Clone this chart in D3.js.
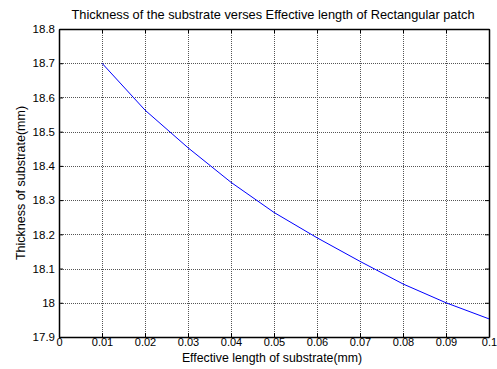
<!DOCTYPE html>
<html><head><meta charset="utf-8">
<script src="https://cdn.jsdelivr.net/npm/d3@7"></script>
<style>body{margin:0;background:#fff}svg{display:block}text{font-family:"Liberation Sans",Arial,sans-serif}</style>
</head><body>
<svg id="c" width="497" height="369"></svg>
<script>
const xValues = [0.01,0.02,0.03,0.04,0.05,0.06,0.07,0.08,0.09,0.10];
const thickness = [18.70,18.563,18.453,18.352,18.264,18.19,18.121,18.055,18.0,17.953];
const xTicks = [0,0.01,0.02,0.03,0.04,0.05,0.06,0.07,0.08,0.09,0.1];
const xTickLabels = ["0","0.01","0.02","0.03","0.04","0.05","0.06","0.07","0.08","0.09","0.1"];
const yTicks = [17.9,18,18.1,18.2,18.3,18.4,18.5,18.6,18.7,18.8];
const yTickLabels = ["17.9","18","18.1","18.2","18.3","18.4","18.5","18.6","18.7","18.8"];

const svg = d3.select("#c");
const L=59,R=489,T=29,B=337;
const x = d3.scaleLinear().domain([0,0.1]).range([L,R]);
const y = d3.scaleLinear().domain([17.9,18.8]).range([B,T]);

// grid
const g = svg.append("g");
g.selectAll(".vg").data(xTicks.slice(1,-1)).enter().append("line")
 .attr("x1",d=>Math.round(x(d))+0.5).attr("x2",d=>Math.round(x(d))+0.5).attr("y1",T).attr("y2",B)
 .attr("stroke","#555").attr("stroke-width",1).attr("stroke-dasharray","1,1");
g.selectAll(".hg").data(yTicks.slice(1,-1)).enter().append("line")
 .attr("y1",d=>Math.round(y(d))+0.5).attr("y2",d=>Math.round(y(d))+0.5).attr("x1",L).attr("x2",R)
 .attr("stroke","#555").attr("stroke-width",1).attr("stroke-dasharray","1,1");

// axes
const xAxis = d3.axisBottom(x).tickValues(xTicks).tickFormat((d,i)=>xTickLabels[i]).tickSizeInner(-4).tickSizeOuter(0).tickPadding(1);
const yAxis = d3.axisLeft(y).tickValues(yTicks).tickFormat((d,i)=>yTickLabels[i]).tickSizeInner(-4).tickSizeOuter(0).tickPadding(4);
const xa = svg.append("g").attr("transform",`translate(0,${B})`).call(xAxis);
const ya = svg.append("g").attr("transform",`translate(${L},0)`).call(yAxis);
const xTop = svg.append("g").attr("transform",`translate(0,${T})`).call(d3.axisTop(x).tickValues(xTicks).tickFormat("").tickSizeInner(-4).tickSizeOuter(0));
const yRight = svg.append("g").attr("transform",`translate(${R},0)`).call(d3.axisRight(y).tickValues(yTicks).tickFormat("").tickSizeInner(-4).tickSizeOuter(0));
[xa,ya,xTop,yRight].forEach(a=>{a.select(".domain").attr("stroke","#000").attr("stroke-width",1.5);a.selectAll(".tick line").attr("stroke","#000");a.selectAll("text").attr("font-size",11.5).attr("fill","#000").attr("font-family","Liberation Sans, Arial, sans-serif");});
xa.selectAll("text").attr("font-size",11);

// line
svg.append("path").datum(xValues.map((d,i)=>[d,thickness[i]]))
 .attr("d",d3.line().x(d=>x(d[0])).y(d=>y(d[1])))
 .attr("fill","none").attr("stroke","#0000ff").attr("stroke-width",1);

// titles
svg.append("text").attr("x",273).attr("y",19).attr("text-anchor","middle").attr("font-size",12.8).text("Thickness of the substrate verses Effective length of Rectangular patch");
svg.append("text").attr("x",272).attr("y",362).attr("text-anchor","middle").attr("font-size",12.3).text("Effective length of substrate(mm)");
svg.append("text").attr("transform",`translate(21,${(T+B)/2}) rotate(-90)`).attr("dy","0.35em").attr("text-anchor","middle").attr("font-size",12.5).text("Thickness of substrate(mm)");
</script>
</body></html>
